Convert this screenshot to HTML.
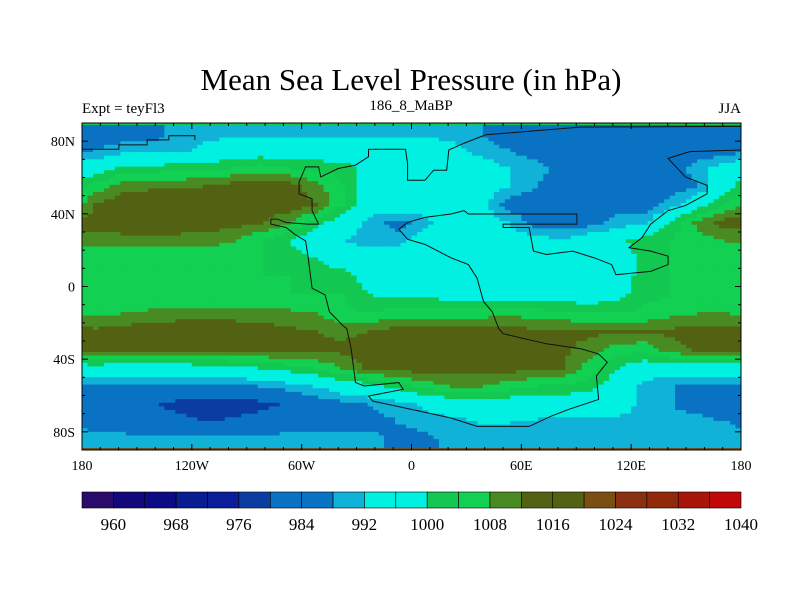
<!DOCTYPE html>
<html><head><meta charset="utf-8"><style>
body{margin:0;background:#fff;}
svg text{font-family:"Liberation Serif",serif;fill:#000;}
</style></head><body>
<svg id="chart" width="800" height="600" viewBox="0 0 800 600" xmlns="http://www.w3.org/2000/svg">
<text x="411" y="90" font-size="31" text-anchor="middle">Mean Sea Level Pressure (in hPa)</text>
<text x="82" y="113" font-size="15">Expt = teyFl3</text>
<text x="411" y="110" font-size="15" text-anchor="middle">186_8_MaBP</text>
<text x="741" y="113" font-size="15" text-anchor="end">JJA</text>
<g id="cells"></g>
<g id="coast"></g>
<g id="axes"></g>
<g id="cbar"></g>
</svg>
<script>
// ---- data ----
const lonCenters = [-172.5,-157.5,-142.5,-127.5,-112.5,-97.5,-82.5,-67.5,-52.5,-37.5,-22.5,-7.5,7.5,22.5,37.5,52.5,67.5,82.5,97.5,112.5,127.5,142.5,157.5,172.5];
const latCenters = [85,75,65,55,45,35,25,15,5,-5,-15,-25,-35,-45,-55,-65,-75,-85];
const pressure = [
[985,985,985,990,990,990,990,990,990,990,990,990,990,990,988,985,985,985,985,985,985,985,985,985],
[988,990,990,990,994,996,996,996,996,996,996,996,996,994,990,988,985,985,985,985,985,985,985,985],
[996,1002,1002,1003,1003,1004,1006,1004,1003,1002,998,996,996,996,996,992,990,986,985,985,985,986,990,996],
[1006,1010,1011,1011,1012,1014,1015,1014,1010,1004,997,996,996,996,996,992,988,985,985,985,985,985,988,998],
[1012,1015,1016,1016,1016,1016,1016,1015,1012,1004,996,996,996,996,994,986,985,985,985,985,985,990,998,1004],
[1014,1015,1015,1015,1014,1014,1012,1008,1002,996,990,986,990,996,996,992,986,985,986,990,991,1002,1010,1014],
[1010,1010,1010,1010,1010,1008,1004,1000,996,992,990,990,996,996,996,996,994,993,996,998,1003,1004,1006,1008],
[1004,1004,1004,1004,1004,1004,1004,1003,1000,997,996,996,996,996,996,996,996,996,996,996,1002,1004,1004,1004],
[1004,1004,1004,1004,1004,1004,1004,1004,1003,1002,997,996,996,996,996,996,996,996,996,997,1002,1004,1004,1004],
[1004,1004,1004,1004,1004,1004,1004,1004,1004,1004,1000,999,999,998,997,997,997,997,997,998,1003,1004,1004,1004],
[1007,1008,1009,1010,1010,1010,1010,1009,1008,1005,1004,1006,1006,1006,1006,1007,1006,1005,1004,1004,1005,1007,1008,1008],
[1013,1014,1015,1015,1015,1015,1014,1013,1012,1011,1012,1014,1015,1015,1015,1014,1013,1013,1013,1012,1012,1013,1014,1014],
[1013,1013,1014,1014,1014,1013,1013,1013,1013,1013,1014,1015,1015,1015,1015,1015,1014,1013,1010,1006,1005,1010,1013,1013],
[997,996,996,996,997,998,1000,1002,1004,1008,1013,1014,1014,1014,1014,1014,1013,1012,1006,1000,996,996,996,996],
[986,986,986,986,986,987,988,990,992,996,998,1002,1006,1008,1008,1006,1004,1003,1002,996,990,988,986,986],
[986,984,981,978,977,977,978,981,985,986,988,990,993,996,996,996,996,996,996,996,990,988,985,984],
[986,985,984,982,980,981,983,986,986,986,986,988,990,990,992,992,991,990,990,990,990,990,990,988],
[990,990,990,990,990,990,990,990,990,990,990,986,986,990,990,990,990,990,990,990,990,990,990,990]
];
const levelLabels = ["960","968","976","984","992","1000","1008","1016","1024","1032","1040"];
const lonTickLabels = ["180","120W","60W","0","60E","120E","180"];
const latTickLabels = ["80N","40N","0","40S","80S"];
const latTickValues = [80,40,0,-40,-80];

// ---- styling ----
const colors = ["#2a0a6a","#12087c","#0c0a84","#0a1c92","#0a1e9a","#0a3ca2","#0a72c2","#0a72c2","#10b2d8","#00f0e2","#00f0e2","#12c850","#12d052","#4a8a22","#526212","#526212","#7a5012","#8a3010","#922a0a","#a8160a","#c00808"];
const L=82,R=741,T=123,B=450;
const xOf = lon => L + (lon+180)/360*(R-L);
const yOf = lat => T + (90-lat)/180*(B-T);
const levelMin=960, step=4;
function colorOf(v){let i=Math.floor((v-levelMin)/step)+1;i=Math.max(0,Math.min(colors.length-1,i));return colors[i];}
const NS="http://www.w3.org/2000/svg";
function mk(tag,attrs,parent){const e=document.createElementNS(NS,tag);for(const k in attrs)e.setAttribute(k,attrs[k]);parent.appendChild(e);return e;}

// field rendered by bilinear sampling of the gridded values
const nLon=lonCenters.length,nLat=latCenters.length;
const dLon=360/nLon, dLat=180/nLat;
function sample(lon,lat){
  let fc=(lon-lonCenters[0])/dLon; fc=((fc%nLon)+nLon)%nLon;
  const c0=Math.floor(fc), c1=(c0+1)%nLon, tc=fc-c0;
  let fr=(latCenters[0]-lat)/dLat; fr=Math.max(0,Math.min(nLat-1,fr));
  const r0=Math.floor(fr), r1=Math.min(nLat-1,r0+1), tr=fr-r0;
  const a=pressure[r0][c0]*(1-tc)+pressure[r0][c1]*tc;
  const b=pressure[r1][c0]*(1-tc)+pressure[r1][c1]*tc;
  return a*(1-tr)+b*tr;
}
const cg=document.getElementById('cells');
const SUB=5, sLon=dLon/SUB, sLat=dLat/SUB;
for(let j=0;j<nLat*SUB;j++){
  const lat=90-(j+0.5)*sLat;
  for(let i=0;i<nLon*SUB;i++){
    const lon=-180+(i+0.5)*sLon;
    const x0=xOf(lon-sLon/2), x1=xOf(lon+sLon/2), y0=yOf(lat+sLat/2), y1=yOf(lat-sLat/2);
    const rc=mk('rect',{x:x0,y:y0,width:x1-x0+0.5,height:y1-y0+0.5,fill:colorOf(sample(lon,lat))},cg);
    
    
  }
}
mk('rect',{x:L,y:T,width:R-L,height:2,fill:"#12c850"},cg);
mk('rect',{x:L,y:B-2,width:R-L,height:2,fill:"#6a5020"},cg);

// coastline (zoom-pixel trace converted to lon/lat)
const coastZ=[[690,108],[775,108],[780,150],[780,200],[820,200],[840,170],[870,170],[875,110],[910,90],[960,65],[1180,42],[1548,40]];
const coastMain=[[690,108],[690,130],[660,155],[620,165],[580,190],[575,160],[545,160],[530,205],[530,240],[560,255],[560,290],[575,330],[550,330],[500,325],[480,315],[465,315],[465,330],[500,340],[520,360],[545,380],[550,420],[560,520],[590,540],[600,590],[630,630],[640,640],[650,700],[660,800],[680,810],[760,800],[770,820],[690,840],[700,855],[790,880],[880,905],[940,930],[1060,930],[1110,900],[1150,880],[1220,850],[1215,780],[1240,740],[1220,715],[1180,700],[1100,685],[1000,655],[990,640],[975,590],[955,560],[940,490],[920,450],[880,430],[820,390],[780,375],[760,345],[780,325],[820,310],[880,300],[910,290],[920,300],[1170,300],[1170,330],[1000,330],[1000,340],[1060,340],[1070,410],[1100,420],[1160,410],[1210,430],[1250,450],[1260,480],[1340,470],[1380,450],[1380,425],[1340,410],[1290,400],[1320,370],[1340,330],[1380,290],[1420,275],[1470,240],[1470,215],[1420,190],[1380,135],[1430,115],[1548,110]];
const coastNW=[[30,108],[115,108],[115,95],[180,95],[180,80],[230,80],[230,68],[290,68],[290,80]];
const z2=p=>[xOf((p[0]-30)/4.2167-180), yOf(90-(p[1]-30)/5.389)];
const co=document.getElementById('coast');
[coastZ,coastMain,coastNW].forEach(line=>{
  const pl=mk('polyline',{points:line.map(p=>z2(p).join(',')).join(' '),fill:'none',stroke:'#111','stroke-width':1},co);
  
  
});

// axes
const ax=document.getElementById('axes');
mk('rect',{x:L,y:T,width:R-L,height:B-T,fill:'none',stroke:'#000','stroke-width':1},ax);
for(let lon=-180;lon<=180;lon+=10){const x=xOf(lon),len=(lon%60===0)?6:3;
  mk('line',{x1:x,y1:B,x2:x,y2:B-len,stroke:'#000'},ax);mk('line',{x1:x,y1:T,x2:x,y2:T+len,stroke:'#000'},ax);}
for(let lat=-90;lat<=90;lat+=10){const y=yOf(lat),len=(lat%40===0)?6:3;
  mk('line',{x1:L,y1:y,x2:L+len,y2:y,stroke:'#000'},ax);mk('line',{x1:R,y1:y,x2:R-len,y2:y,stroke:'#000'},ax);}
lonTickLabels.forEach((t,i)=>{const tx=mk('text',{x:xOf(-180+60*i),y:470,'font-size':14,'text-anchor':'middle'},ax);tx.textContent=t;
  });
latTickLabels.forEach((t,i)=>{const tx=mk('text',{x:75,y:yOf(latTickValues[i])+5,'font-size':14,'text-anchor':'end'},ax);tx.textContent=t;
  });

// colorbar
const cb=document.getElementById('cbar');
const bw=(R-L)/colors.length;
colors.forEach((c,i)=>{const r=mk('rect',{x:L+i*bw,y:492,width:bw,height:16,fill:c,stroke:'#000','stroke-width':0.6},cb);
  });
levelLabels.forEach((t,i)=>{const tx=mk('text',{x:L+(1+2*i)*bw,y:530,'font-size':17,'text-anchor':'middle'},cb);tx.textContent=t;
  });
</script>
</body></html>
